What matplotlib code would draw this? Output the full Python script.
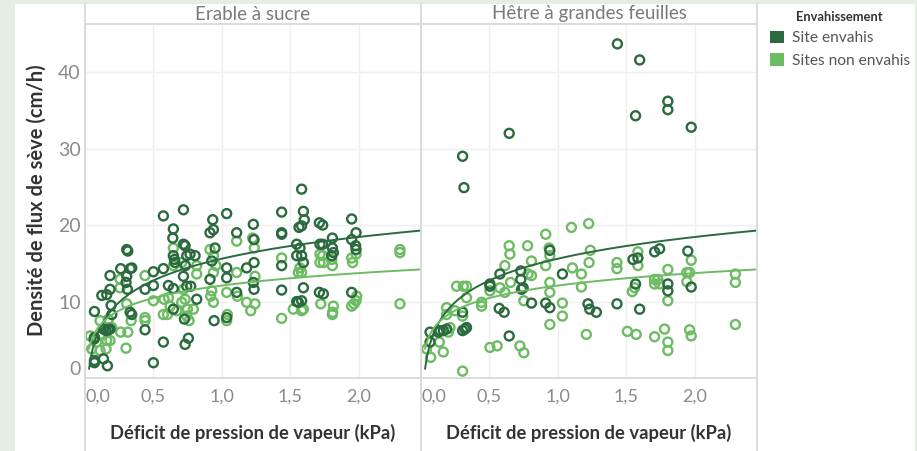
import numpy as np
import matplotlib
matplotlib.use('Agg')
import matplotlib.pyplot as plt
from matplotlib.patches import Rectangle, Patch
from matplotlib.lines import Line2D

# Séries (x = DPV en kPa, y = densité de flux en cm/h)
erable_envahi_x = [0.069, 0.069, 0.069, 0.069, 0.135, 0.164, 0.067, 0.123, 0.159, 0.183, 0.183, 0.191, 0.196,
                   0.135, 0.154, 0.171, 0.183, 0.261, 0.305, 0.313, 0.305, 0.330, 0.342, 0.300, 0.310, 0.330,
                   0.342, 0.439, 0.439, 0.500, 0.500, 0.500, 0.573, 0.573, 0.573, 0.610, 0.646, 0.646, 0.646,
                   0.642, 0.646, 0.654, 0.658, 0.720, 0.720, 0.732, 0.727, 0.732, 0.756, 0.720, 0.734, 0.744,
                   0.773, 0.744, 0.768, 0.805, 0.817, 0.934, 0.939, 0.914, 0.927, 0.914, 0.944, 0.951, 1.036,
                   1.036, 1.036, 1.036, 1.109, 1.109, 1.182, 1.231, 1.236, 1.236, 1.231, 1.236, 1.438, 1.438,
                   1.438, 1.438, 1.438, 1.584, 1.597, 1.565, 1.584, 1.604, 1.548, 1.572, 1.584, 1.597, 1.548,
                   1.597, 1.548, 1.584, 1.560, 1.714, 1.738, 1.718, 1.738, 1.714, 1.743, 1.809, 1.809, 1.816,
                   1.804, 1.950, 1.950, 1.950, 1.982, 1.979, 1.982]
erable_envahi_y = [8.7, 5.3, 2.3, 2.0, 2.5, 1.6, 5.1, 10.8, 10.9, 11.6, 13.4, 9.5, 8.3,
                   6.4, 6.2, 6.3, 6.4, 14.3, 16.8, 16.6, 13.3, 14.3, 14.4, 12.5, 11.6, 8.6,
                   8.3, 11.6, 6.3, 13.9, 12.1, 2.0, 21.2, 14.3, 4.7, 12.1, 11.7, 9.0, 19.5,
                   18.3, 16.0, 15.5, 15.1, 22.0, 17.5, 17.3, 7.7, 4.4, 5.2, 13.3, 14.7, 12.0,
                   12.0, 16.0, 16.2, 16.0, 10.3, 20.7, 19.4, 19.0, 15.3, 12.9, 7.5, 17.0, 21.5,
                   14.4, 13.1, 7.9, 19.0, 11.2, 14.4, 20.1, 18.1, 15.1, 12.5, 11.6, 21.7, 19.0,
                   18.8, 14.7, 11.5, 24.7, 21.8, 19.7, 19.9, 20.7, 17.5, 17.0, 16.0, 15.1, 16.0,
                   11.8, 10.0, 10.1, 9.9, 20.3, 20.0, 17.5, 17.5, 11.2, 11.0, 18.3, 17.0, 16.4,
                   16.0, 20.8, 18.1, 11.2, 19.0, 17.3, 16.8]

erable_non_envahi_x = [0.037, 0.049, 0.086, 0.110, 0.123, 0.110, 0.154, 0.159, 0.183, 0.196, 0.171, 0.257, 0.257,
                       0.261, 0.305, 0.313, 0.300, 0.337, 0.439, 0.439, 0.439, 0.500, 0.573, 0.578, 0.603, 0.610,
                       0.622, 0.646, 0.646, 0.671, 0.707, 0.720, 0.732, 0.749, 0.744, 0.761, 0.793, 0.817, 0.817,
                       0.707, 0.914, 0.919, 0.927, 0.939, 0.939, 0.958, 0.939, 1.036, 1.041, 1.036, 1.109, 1.109,
                       1.114, 1.182, 1.212, 1.226, 1.238, 1.243, 1.243, 1.438, 1.438, 1.523, 1.560, 1.584, 1.597,
                       1.584, 1.572, 1.718, 1.738, 1.718, 1.743, 1.724, 1.804, 1.809, 1.816, 1.811, 1.809, 1.950,
                       1.957, 1.950, 1.967, 1.982, 1.982, 1.987, 2.303, 2.303, 2.303]
erable_non_envahi_y = [5.5, 3.8, 4.7, 7.5, 5.7, 3.6, 3.8, 4.9, 4.9, 6.6, 7.7, 12.9, 11.8,
                       6.0, 9.7, 6.0, 3.9, 7.5, 13.4, 7.9, 7.5, 10.1, 8.3, 10.3, 8.3, 10.5,
                       9.4, 17.0, 14.7, 8.8, 9.9, 11.6, 10.3, 9.0, 8.1, 7.5, 9.0, 13.6, 14.7,
                       15.1, 16.8, 10.7, 11.4, 9.9, 13.8, 14.7, 16.0, 11.2, 8.3, 7.5, 17.9, 13.8,
                       10.7, 9.9, 8.8, 18.3, 17.0, 13.3, 9.7, 15.7, 7.8, 9.0, 13.8, 13.8, 9.0,
                       8.8, 14.4, 16.2, 16.0, 15.1, 15.1, 9.7, 15.5, 14.7, 9.4, 8.6, 8.3, 15.7,
                       15.1, 9.4, 9.7, 16.2, 10.1, 10.7, 16.8, 16.4, 9.7]

hetre_envahi_x = [1.436, 1.599, 1.805, 1.805, 1.569, 1.976, 0.645, 0.304, 0.314, 0.066, 0.066, 0.127, 0.163,
                  0.187, 0.139, 0.304, 0.304, 0.321, 0.333, 0.504, 0.504, 0.577, 0.572, 0.608, 0.645, 0.730,
                  0.730, 0.735, 0.747, 0.808, 0.942, 0.912, 0.942, 1.034, 1.221, 1.234, 1.282, 1.433, 1.550,
                  1.586, 1.569, 1.599, 1.708, 1.745, 1.805, 1.805, 1.951, 1.976]
hetre_envahi_y = [43.7, 41.6, 36.2, 35.1, 34.3, 32.8, 32.0, 29.0, 24.9, 6.0, 4.7, 6.0, 6.2,
                  6.4, 6.2, 8.6, 6.2, 6.4, 6.6, 12.3, 12.0, 13.6, 9.1, 8.6, 5.5, 14.0,
                  12.9, 11.6, 11.8, 9.8, 16.7, 9.8, 9.2, 13.6, 9.7, 9.0, 8.6, 9.7, 15.5,
                  15.7, 12.3, 9.0, 16.5, 16.9, 12.3, 11.4, 16.6, 11.9]

hetre_non_envahi_x = [0.041, 0.071, 0.134, 0.163, 0.187, 0.187, 0.200, 0.212, 0.248, 0.260, 0.309, 0.333, 0.333,
                      0.304, 0.304, 0.443, 0.443, 0.504, 0.504, 0.557, 0.577, 0.613, 0.613, 0.645, 0.650, 0.655,
                      0.723, 0.752, 0.752, 0.779, 0.783, 0.808, 0.808, 0.912, 0.937, 0.942, 0.912, 0.942, 0.942,
                      0.942, 1.034, 1.034, 1.100, 1.107, 1.173, 1.173, 1.226, 1.238, 1.229, 1.209, 1.433, 1.433,
                      1.509, 1.574, 1.545, 1.562, 1.586, 1.586, 1.708, 1.732, 1.708, 1.745, 1.708, 1.781, 1.805,
                      1.805, 1.805, 1.805, 1.944, 1.964, 1.976, 1.944, 1.964, 1.976, 2.299, 2.299, 2.299]
hetre_non_envahi_y = [3.8, 2.7, 4.7, 3.4, 9.2, 8.3, 6.0, 6.6, 8.8, 12.0, 12.0, 12.0, 10.5,
                      8.1, 0.9, 9.9, 9.4, 11.4, 4.0, 4.2, 11.8, 14.7, 11.2, 17.3, 16.2, 12.5,
                      4.2, 3.3, 10.1, 17.3, 13.6, 15.3, 13.4, 18.8, 17.0, 16.0, 14.7, 12.5, 11.2,
                      7.0, 9.8, 8.1, 19.7, 14.4, 13.6, 11.9, 20.2, 16.7, 15.1, 5.7, 15.1, 14.3,
                      6.1, 5.7, 11.3, 11.8, 16.5, 14.7, 12.9, 12.9, 12.3, 12.3, 5.4, 6.4, 14.2,
                      10.1, 4.7, 3.6, 13.8, 13.8, 15.4, 12.6, 6.3, 5.5, 13.6, 12.5, 7.0]

# Courbes de tendance logarithmiques y = a + b*ln(x)
tendance_envahi = (15.6, 4.1)
tendance_non_envahi = (12.09, 2.35)

especes = ['Erable à sucre', 'Hêtre à grandes feuilles']
legende = ['Site envahis', 'Sites non envahis']
x_ticks = [0.0, 0.5, 1.0, 1.5, 2.0]
x_tick_labels = ['0,0', '0,5', '1,0', '1,5', '2,0']
y_ticks = [0, 10, 20, 30, 40]

VERT_FONCE = '#2a6a3e'
VERT_CLAIR = '#6dbb63'
GRIS_LIGNE = '#d9d9d9'
W, H = 917, 451

plt.rcParams['font.family'] = ['Lato', 'DejaVu Sans']


def fx(px):
    return px / W


def fy(py):
    return 1 - py / H


def dessiner_panneau(ax, x_env, y_env, x_non, y_non, premier):
    ax.set_facecolor('white')
    ax.scatter(x_non, y_non, s=42, facecolors='none', edgecolors=VERT_CLAIR, linewidths=1.7, zorder=2)
    ax.scatter(x_env, y_env, s=42, facecolors='none', edgecolors=VERT_FONCE, linewidths=1.7, zorder=3)

    xs = np.geomspace(0.03, 2.46, 200)
    a, b = tendance_envahi
    ax.plot(xs, a + b * np.log(xs), color=VERT_FONCE, lw=1.4, zorder=4)
    a, b = tendance_non_envahi
    ax.plot(xs, a + b * np.log(xs), color=VERT_CLAIR, lw=1.4, zorder=4)

    ax.set_xlim(0, 2.457)
    ax.set_ylim(0, 46.3)
    ax.set_xticks(x_ticks)
    ax.set_xticklabels(x_tick_labels)
    ax.set_yticks(y_ticks)
    ax.grid(True, color='#efefef', lw=1.0, zorder=0)
    ax.set_axisbelow(True)

    for cote in ['left', 'right']:
        ax.spines[cote].set_visible(False)
    ax.spines['top'].set_color(GRIS_LIGNE)
    ax.spines['top'].set_linewidth(1.3)
    ax.spines['bottom'].set_color(GRIS_LIGNE)
    ax.spines['bottom'].set_linewidth(1.3)

    ax.tick_params(axis='x', length=0, pad=8, labelsize=13, labelcolor='#8a8a8a')
    ax.tick_params(axis='y', length=0, pad=3, labelsize=14, labelcolor='#8a8a8a')
    ax.xaxis.get_major_ticks()[0].label1.set_horizontalalignment('left')
    if premier:
        ax.yaxis.get_major_ticks()[0].label1.set_verticalalignment('bottom')
    else:
        ax.set_yticklabels([])


def main():
    fig = plt.figure(figsize=(W / 100, H / 100), dpi=100, facecolor='#e6eee1')

    # fond blanc
    fig.patches.append(Rectangle((fx(15), 0), fx(900), fy(4), transform=fig.transFigure,
                                 facecolor='white', edgecolor='none', zorder=-5))

    ax1 = fig.add_axes([fx(85), fy(378), fx(336), (378 - 24) / H])
    ax2 = fig.add_axes([fx(421), fy(378), fx(336), (378 - 24) / H])

    dessiner_panneau(ax1, erable_envahi_x, erable_envahi_y, erable_non_envahi_x, erable_non_envahi_y, True)
    dessiner_panneau(ax2, hetre_envahi_x, hetre_envahi_y, hetre_non_envahi_x, hetre_non_envahi_y, False)

    # séparateurs verticaux
    for px in [85, 421, 757]:
        fig.add_artist(Line2D([fx(px), fx(px)], [0, fy(4)], color=GRIS_LIGNE, lw=1.3,
                              transform=fig.transFigure))

    # titres des panneaux et titres d'axe x
    for centre, nom in zip([253, 589], especes):
        fig.text(fx(centre), fy(14), nom, ha='center', va='center', fontsize=13.5, color='#7a7a7a')
        fig.text(fx(centre), fy(433), 'Déficit de pression de vapeur (kPa)', ha='center', va='center',
                 fontsize=13.2, fontweight='bold', color='#333333')

    fig.text(fx(37), fy(200), 'Densité de flux de sève (cm/h)', rotation=90, ha='center', va='center',
             fontsize=14.5, fontweight='bold', color='#333333')

    # légende
    poignees = [Patch(facecolor=VERT_FONCE, edgecolor='none'), Patch(facecolor=VERT_CLAIR, edgecolor='none')]
    leg = fig.legend(poignees, legende, loc='upper left', bbox_to_anchor=(fx(762), fy(3)),
                     frameon=False, title='Envahissement', fontsize=11.2, handlelength=0.9,
                     handleheight=0.9, handletextpad=0.5, labelspacing=0.5, borderpad=0.3,
                     borderaxespad=0.2)
    leg.get_title().set_fontsize(9.3)
    leg.get_title().set_fontweight('bold')
    leg.get_title().set_color('#333333')
    for t in leg.get_texts():
        t.set_color('#555555')

    fig.savefig('out.png', dpi=100, facecolor=fig.get_facecolor())


if __name__ == "__main__":
    main()
